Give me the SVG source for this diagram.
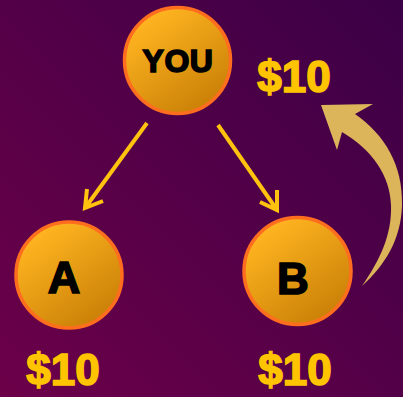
<svg xmlns="http://www.w3.org/2000/svg" width="403" height="397" viewBox="0 0 403 397">
<defs>
<linearGradient id="bg" x1="1" y1="0" x2="0" y2="1">
<stop offset="0" stop-color="#3b0046"/>
<stop offset="1" stop-color="#6c0049"/>
</linearGradient>
<linearGradient id="ball" x1="0.2" y1="0.1" x2="0.8" y2="0.95">
<stop offset="0" stop-color="#ffb520"/>
<stop offset="1" stop-color="#c97f06"/>
</linearGradient>
<style>
.node{fill:url(#ball);stroke:#ff6d1e;stroke-width:3.5}
.lbl{font-family:"Liberation Sans",Arial,sans-serif;font-weight:bold;fill:#000;stroke:#000;stroke-width:1.6;text-anchor:middle}
.money{font-family:"Liberation Sans",Arial,sans-serif;font-weight:bold;fill:#ffc400;stroke:#ffc400;stroke-width:1.6;text-anchor:middle;font-size:44px}
.conn{stroke:#ffc20e;stroke-width:4;fill:none;stroke-linecap:butt;stroke-linejoin:miter}
</style>
</defs>
<rect width="403" height="397" fill="url(#bg)"/>
<g id="connectors">
<path class="conn" d="M147,123 L85,208 M87,189 L85,208 L103,201"/>
<path class="conn" d="M218,125 L277,210 M260,202 L277,210 L277,190"/>
<path d="M321,105 L373,104 L355,114 C385,135 403,165 402,205 C401,240 385,265 362,286 C380,260 392,235 391,205 C390,175 372,150 342,132 L337,150 Z" fill="#dcb45a"/>
</g>
<g id="node-you">
<circle class="node" cx="177.5" cy="60.5" r="53"/>
<text class="lbl" x="178" y="72" font-size="32" letter-spacing="0.5">YOU</text>
</g>
<g id="node-a">
<circle class="node" cx="69" cy="275" r="53"/>
<text class="lbl" x="64" y="293" font-size="45">A</text>
</g>
<g id="node-b">
<circle class="node" cx="297.5" cy="271" r="53.5"/>
<text class="lbl" x="293" y="294" font-size="44">B</text>
</g>
<g id="money">
<text class="money" x="294" y="92">$10</text>
<text class="money" x="63" y="385">$10</text>
<text class="money" x="295" y="385">$10</text>
</g>
</svg>
